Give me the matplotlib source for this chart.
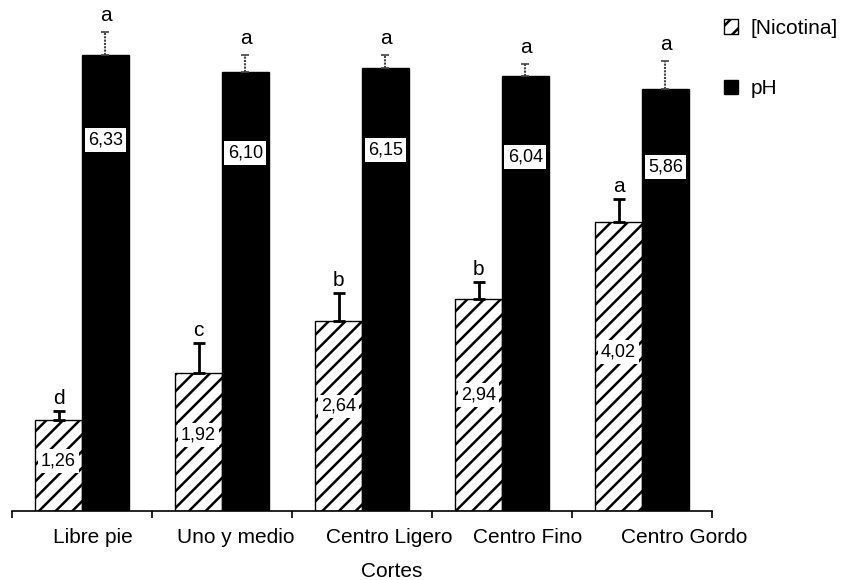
import matplotlib
matplotlib.use('Agg')
import matplotlib.pyplot as plt
import matplotlib.transforms as mtransforms
import numpy as np

plt.rcParams['font.family'] = ['Liberation Sans', 'DejaVu Sans']
plt.rcParams['hatch.linewidth'] = 1.8

# Data
cortes = ["Libre pie", "Uno y medio", "Centro Ligero", "Centro Fino", "Centro Gordo"]
nicotina = [1.26, 1.92, 2.64, 2.94, 4.02]
nicotina_err = [0.13, 0.42, 0.39, 0.24, 0.32]
nicotina_letras = ["d", "c", "b", "b", "a"]
ph = [6.33, 6.10, 6.15, 6.04, 5.86]
ph_err = [0.33, 0.24, 0.19, 0.17, 0.39]
ph_letras = ["a", "a", "a", "a", "a"]

# horizontal shift of the category labels (px), as in the original layout
label_shift = [11, 14, 27, 26, 42]

fig = plt.figure(figsize=(8.45, 5.8), dpi=100)
ax = fig.add_axes([12 / 845, 1 - 511 / 580, 700 / 845, 511 / 580])

x = np.arange(len(cortes))
w = 0.335

b1 = ax.bar(x - w / 2, nicotina, w, color='white', edgecolor='black',
            hatch='//', linewidth=1.0, label='[Nicotina]')
b2 = ax.bar(x + w / 2, ph, w, color='black', edgecolor='black',
            linewidth=1.0, label='pH')

# error bars (upper only)
ax.errorbar(x - w / 2, nicotina, yerr=[np.zeros(len(x)), nicotina_err],
            fmt='none', ecolor='black', elinewidth=2, capsize=4, capthick=2)
eb = ax.errorbar(x + w / 2, ph, yerr=[np.zeros(len(x)), ph_err],
                 fmt='none', ecolor='#444444', elinewidth=1.5, capsize=3,
                 capthick=1.2)
eb[2][0].set_linestyle((0, (1, 0.6)))

# significance letters
for i in range(len(x)):
    ax.annotate(nicotina_letras[i], (x[i] - w / 2, nicotina[i] + nicotina_err[i]),
                xytext=(0, 2), textcoords='offset points', ha='center',
                va='bottom', fontsize=15)
    ax.annotate(ph_letras[i], (x[i] + w / 2, ph[i] + ph_err[i]),
                xytext=(0, 5), textcoords='offset points', ha='center',
                va='bottom', fontsize=15)

# value labels
for i in range(len(x)):
    ax.text(x[i] - w / 2, nicotina[i] * 0.55, f"{nicotina[i]:.2f}".replace('.', ','),
            ha='center', va='center', fontsize=13,
            bbox=dict(facecolor='white', edgecolor='none', pad=2.5))
    ax.text(x[i] + w / 2, ph[i] * 0.815, f"{ph[i]:.2f}".replace('.', ','),
            ha='center', va='center', fontsize=13,
            bbox=dict(facecolor='white', edgecolor='none', pad=2.5))

ax.set_xlim(-0.5, len(x) - 0.5)
ax.set_ylim(0, 7.1)
for s in ['top', 'right', 'left']:
    ax.spines[s].set_visible(False)
ax.spines['bottom'].set_linewidth(1.2)
ax.set_yticks([])
ax.set_xticks(x)
ax.set_xticklabels(cortes, fontsize=15)
ax.tick_params(axis='x', which='major', length=0, pad=12)
ax.set_xticks(np.arange(-0.5, len(x)), minor=True)
ax.tick_params(axis='x', which='minor', length=5, width=1.2)
for lab, dx in zip(ax.get_xticklabels(), label_shift):
    lab.set_transform(lab.get_transform() +
                      mtransforms.ScaledTranslation(dx / 100, 0, fig.dpi_scale_trans))
ax.set_xlabel('Cortes', fontsize=15)
ax.xaxis.set_label_coords(0.543, -0.1)

fig.legend(handles=[b1, b2], loc='upper left', bbox_to_anchor=(705 / 845, 1),
           frameon=False, fontsize=15, handlelength=0.7, handleheight=0.7,
           handletextpad=0.6, labelspacing=2.0)

fig.savefig('out.png', dpi=100)
